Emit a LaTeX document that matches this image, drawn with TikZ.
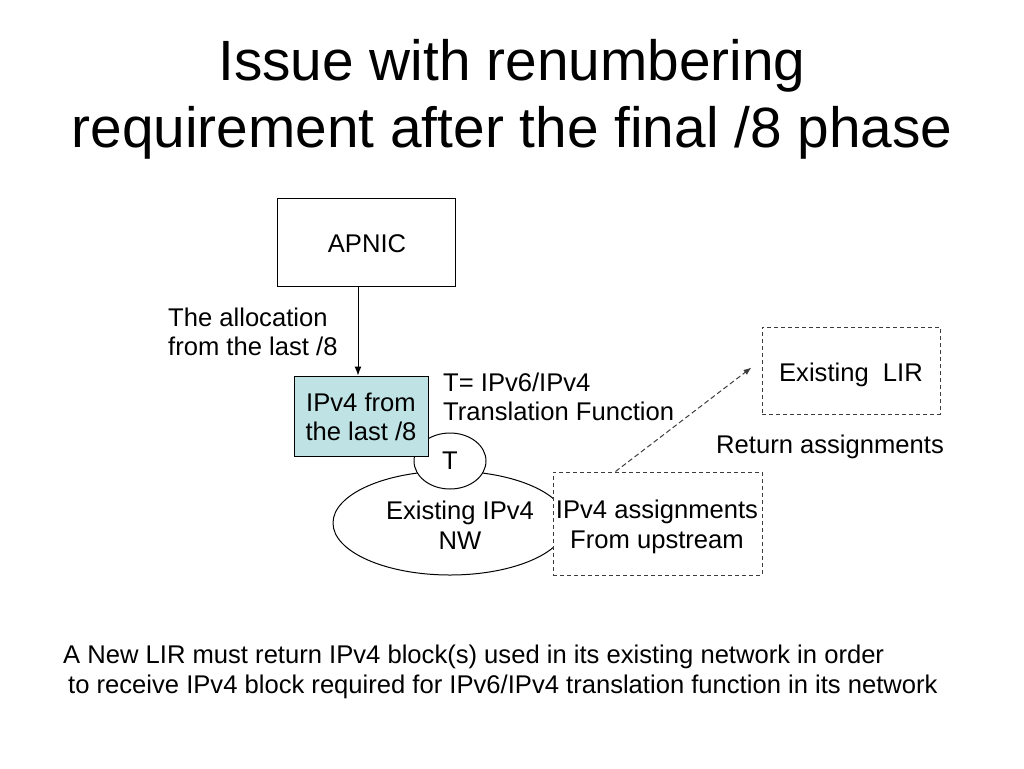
\documentclass[tikz,border=0pt]{standalone}
\usepackage{fontspec}
\setmainfont{Liberation Sans}
\usetikzlibrary{arrows.meta,shapes.geometric,calc}
\definecolor{boxblue}{RGB}{191,227,229}
\definecolor{dashgray}{RGB}{60,60,60}
\begin{document}
\begin{tikzpicture}[x=1pt,y=-1pt,
  body/.style={font=\fontsize{25.6}{29.5}\selectfont, inner sep=0pt},
  dashbox/.style={draw=dashgray, line width=1pt, dash pattern=on 4pt off 3pt, fill=white, inner sep=0pt},
]
\useasboundingbox (0,0) rectangle (1024,768);
\fill[white] (0,0) rectangle (1024,768);

% title
\node[font=\fontsize{56.8}{67}\selectfont, align=center, inner sep=0pt] (title) at (512,99)
  {Issue with renumbering\\requirement after the final /8 phase};

% shapes
\node[draw=black, line width=1pt, fill=white, ellipse, minimum width=234pt, minimum height=104pt, inner sep=0pt] (nw) at (450,523) {};
\node[draw=black, line width=1pt, fill=white, ellipse, minimum width=72pt, minimum height=56pt, inner sep=0pt, body] (t) at (450,461) {T};
\node[draw=black, line width=1pt, fill=boxblue, minimum width=134pt, minimum height=80pt, inner sep=0pt] (blue) at (361,416) {};
\node[body, align=center] (bluetext) at (361,417) {IPv4 from\\ the last /8};
\node[draw=black, line width=1pt, fill=white, minimum width=178pt, minimum height=88pt, inner sep=0pt] (apnic) at (366,242) {};
\node[body] (apnictext) at (367,244) {APNIC};
\node[dashbox, minimum width=209pt, minimum height=103pt] (assign) at (657.5,523.5) {};
\node[body, align=center] (assigntext) at (657,527) {IPv4 assignments\\From upstream};
\node[dashbox, minimum width=178pt, minimum height=87pt] (lir) at (851,370.5) {};
\node[body] (lirtext) at (851,375) {Existing~~LIR};

\node[body, align=center] (nwtext) at (460,525) {Existing IPv4\\NW};

% labels
\node[body, align=left, anchor=west] (alloc) at (168,332) {The allocation\\from the last /8};
\node[body, align=left, anchor=west] (tdef) at (443,397) {T= IPv6/IPv4\\Translation Function};
\node[body, anchor=west] (ret) at (716,447) {Return assignments};
\node[body, align=left, anchor=west] (bottom) at (63,672)
  {A New LIR must return IPv4 block(s) used in its existing network in order\\\hspace*{5pt}to receive IPv4 block required for IPv6/IPv4 translation function in its network};

% connectors
\draw[line width=1pt, -{Latex[length=9pt,width=7pt]}] ([xshift=-8pt]apnic.south) -- ([xshift=-3pt]blue.north);
\coordinate (lirin) at ($(lir.west)+(-10,-3)$);
\draw[dashgray, line width=1pt, dash pattern=on 5pt off 3pt, -{Latex[length=8pt,width=6pt]}] ([xshift=-42pt]assign.north) -- (lirin);
\end{tikzpicture}
\end{document}
